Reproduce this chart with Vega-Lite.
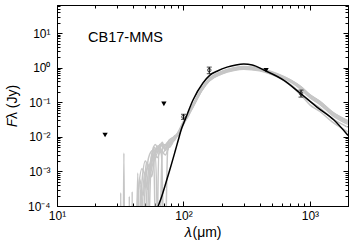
{
  "$schema": "https://vega.github.io/schema/vega-lite/v6.json",
  "width": 291,
  "height": 201,
  "autosize": {"type": "none"},
  "padding": {"left": 57, "top": 5, "right": 6, "bottom": 44},
  "background": "white",
  "config": {
    "view": {"stroke": "black", "strokeWidth": 1},
    "axis": {"labelFont": "Liberation Sans", "titleFont": "Liberation Sans", "labelColor": "black", "titleColor": "black", "domainColor": "black", "tickColor": "black", "grid": false, "labelFontSize": 12, "titleFontSize": 14, "titleFontWeight": "normal"}
  },
  "datasets": {
    "grey": [
      {"m":"A","lam":30,"f":1e-6},{"m":"A","lam":33.3,"f":1e-6},{"m":"A","lam":33.8,"f":0.0034},{"m":"A","lam":34.3,"f":1e-6},{"m":"A","lam":40,"f":1e-6},{"m":"A","lam":44,"f":0.0003},{"m":"A","lam":47,"f":0.0012},{"m":"A","lam":50,"f":0.0008},{"m":"A","lam":53,"f":0.0025},{"m":"A","lam":57,"f":0.004},{"m":"A","lam":61,"f":0.003},{"m":"A","lam":65,"f":0.006},{"m":"A","lam":70,"f":0.005},{"m":"A","lam":75,"f":0.007},{"m":"A","lam":80,"f":0.006},{"m":"A","lam":85,"f":0.009},
      {"m":"A","lam":90,"f":0.012},{"m":"A","lam":100,"f":0.026},{"m":"A","lam":110,"f":0.047},{"m":"A","lam":120,"f":0.085},{"m":"A","lam":140,"f":0.24},{"m":"A","lam":160,"f":0.45},{"m":"A","lam":200,"f":0.72},{"m":"A","lam":250,"f":0.92},{"m":"A","lam":300,"f":1.0},{"m":"A","lam":400,"f":0.9},{"m":"A","lam":500,"f":0.7},{"m":"A","lam":700,"f":0.4},{"m":"A","lam":850,"f":0.24},{"m":"A","lam":1000,"f":0.14},{"m":"A","lam":1200,"f":0.09},{"m":"A","lam":1500,"f":0.045},{"m":"A","lam":2000,"f":0.025},
      {"m":"B","lam":30,"f":1e-6},{"m":"B","lam":31.5,"f":1e-6},{"m":"B","lam":31.9,"f":0.00024},{"m":"B","lam":32.3,"f":1e-6},{"m":"B","lam":42,"f":1e-6},{"m":"B","lam":45,"f":0.0006},{"m":"B","lam":48,"f":0.0002},{"m":"B","lam":51,"f":0.0018},{"m":"B","lam":55,"f":0.0012},{"m":"B","lam":58,"f":0.0045},{"m":"B","lam":62,"f":0.0025},{"m":"B","lam":66,"f":0.004},{"m":"B","lam":72,"f":0.003},{"m":"B","lam":78,"f":0.0065},{"m":"B","lam":85,"f":0.008},
      {"m":"B","lam":90,"f":0.011},{"m":"B","lam":100,"f":0.024},{"m":"B","lam":110,"f":0.044},{"m":"B","lam":120,"f":0.079},{"m":"B","lam":140,"f":0.22},{"m":"B","lam":160,"f":0.42},{"m":"B","lam":200,"f":0.67},{"m":"B","lam":250,"f":0.86},{"m":"B","lam":300,"f":0.93},{"m":"B","lam":400,"f":0.84},{"m":"B","lam":500,"f":0.65},{"m":"B","lam":700,"f":0.39},{"m":"B","lam":850,"f":0.245},{"m":"B","lam":1000,"f":0.143},{"m":"B","lam":1200,"f":0.092},{"m":"B","lam":1500,"f":0.046},{"m":"B","lam":2000,"f":0.026},
      {"m":"C","lam":36,"f":1e-6},{"m":"C","lam":37,"f":1e-6},{"m":"C","lam":37.3,"f":0.00019},{"m":"C","lam":37.7,"f":1e-6},{"m":"C","lam":45,"f":1e-6},{"m":"C","lam":49,"f":0.0009},{"m":"C","lam":52,"f":0.0003},{"m":"C","lam":56,"f":0.003},{"m":"C","lam":60,"f":0.006},{"m":"C","lam":64,"f":0.004},{"m":"C","lam":68,"f":0.007},{"m":"C","lam":72,"f":0.004},{"m":"C","lam":77,"f":0.008},{"m":"C","lam":84,"f":0.01},
      {"m":"C","lam":90,"f":0.0126},{"m":"C","lam":100,"f":0.027},{"m":"C","lam":110,"f":0.049},{"m":"C","lam":120,"f":0.089},{"m":"C","lam":140,"f":0.25},{"m":"C","lam":160,"f":0.47},{"m":"C","lam":200,"f":0.76},{"m":"C","lam":250,"f":0.97},{"m":"C","lam":300,"f":1.05},{"m":"C","lam":400,"f":0.95},{"m":"C","lam":500,"f":0.74},{"m":"C","lam":700,"f":0.41},{"m":"C","lam":850,"f":0.235},{"m":"C","lam":1000,"f":0.135},{"m":"C","lam":1200,"f":0.086},{"m":"C","lam":1500,"f":0.042},{"m":"C","lam":2000,"f":0.023},
      {"m":"D","lam":38,"f":1e-6},{"m":"D","lam":39,"f":1e-6},{"m":"D","lam":39.3,"f":0.00026},{"m":"D","lam":39.7,"f":1e-6},{"m":"D","lam":44,"f":1e-6},{"m":"D","lam":47,"f":0.0005},{"m":"D","lam":50,"f":0.002},{"m":"D","lam":54,"f":0.001},{"m":"D","lam":58,"f":0.0035},{"m":"D","lam":61,"f":1e-6},{"m":"D","lam":64,"f":0.005},{"m":"D","lam":69,"f":0.0035},{"m":"D","lam":74,"f":0.0055},{"m":"D","lam":80,"f":0.008},{"m":"D","lam":86,"f":0.01},
      {"m":"D","lam":90,"f":0.0116},{"m":"D","lam":100,"f":0.025},{"m":"D","lam":110,"f":0.046},{"m":"D","lam":120,"f":0.082},{"m":"D","lam":140,"f":0.23},{"m":"D","lam":160,"f":0.44},{"m":"D","lam":200,"f":0.7},{"m":"D","lam":250,"f":0.89},{"m":"D","lam":300,"f":0.97},{"m":"D","lam":400,"f":0.87},{"m":"D","lam":500,"f":0.68},{"m":"D","lam":700,"f":0.43},{"m":"D","lam":850,"f":0.28},{"m":"D","lam":1000,"f":0.163},{"m":"D","lam":1200,"f":0.105},{"m":"D","lam":1500,"f":0.052},{"m":"D","lam":2000,"f":0.029},
      {"m":"E","lam":45,"f":1e-6},{"m":"E","lam":46,"f":1e-6},{"m":"E","lam":50,"f":0.0004},{"m":"E","lam":53,"f":0.0015},{"m":"E","lam":56,"f":0.0007},{"m":"E","lam":60,"f":0.003},{"m":"E","lam":64,"f":1e-6},{"m":"E","lam":68,"f":0.004},{"m":"E","lam":72,"f":0.006},{"m":"E","lam":78,"f":0.005},{"m":"E","lam":84,"f":0.009},
      {"m":"E","lam":90,"f":0.013},{"m":"E","lam":100,"f":0.028},{"m":"E","lam":110,"f":0.051},{"m":"E","lam":120,"f":0.092},{"m":"E","lam":140,"f":0.26},{"m":"E","lam":160,"f":0.49},{"m":"E","lam":200,"f":0.78},{"m":"E","lam":250,"f":0.99},{"m":"E","lam":300,"f":1.08},{"m":"E","lam":400,"f":0.97},{"m":"E","lam":500,"f":0.76},{"m":"E","lam":700,"f":0.44},{"m":"E","lam":850,"f":0.27},{"m":"E","lam":1000,"f":0.159},{"m":"E","lam":1200,"f":0.102},{"m":"E","lam":1500,"f":0.051},{"m":"E","lam":2000,"f":0.028},
      {"m":"F","lam":41,"f":1e-6},{"m":"F","lam":42,"f":1e-6},{"m":"F","lam":43.5,"f":0.0009},{"m":"F","lam":45,"f":1e-6},{"m":"F","lam":50,"f":1e-6},{"m":"F","lam":54,"f":0.0012},{"m":"F","lam":58,"f":0.0025},{"m":"F","lam":63,"f":0.0055},{"m":"F","lam":67,"f":0.003},{"m":"F","lam":71,"f":1e-6},{"m":"F","lam":75,"f":0.004},{"m":"F","lam":80,"f":0.007},{"m":"F","lam":86,"f":0.011},
      {"m":"F","lam":90,"f":0.0108},{"m":"F","lam":100,"f":0.023},{"m":"F","lam":110,"f":0.042},{"m":"F","lam":120,"f":0.077},{"m":"F","lam":140,"f":0.22},{"m":"F","lam":160,"f":0.41},{"m":"F","lam":200,"f":0.65},{"m":"F","lam":250,"f":0.83},{"m":"F","lam":300,"f":0.9},{"m":"F","lam":400,"f":0.81},{"m":"F","lam":500,"f":0.63},{"m":"F","lam":700,"f":0.33},{"m":"F","lam":850,"f":0.18},{"m":"F","lam":1000,"f":0.107},{"m":"F","lam":1200,"f":0.069},{"m":"F","lam":1500,"f":0.034},{"m":"F","lam":2000,"f":0.019},
      {"m":"G","lam":47,"f":1e-6},{"m":"G","lam":48,"f":1e-6},{"m":"G","lam":52,"f":0.0006},{"m":"G","lam":55,"f":0.002},{"m":"G","lam":59,"f":0.005},{"m":"G","lam":62,"f":0.0035},{"m":"G","lam":67,"f":0.0065},{"m":"G","lam":71,"f":0.0045},{"m":"G","lam":76,"f":0.0075},{"m":"G","lam":82,"f":0.009},
      {"m":"G","lam":90,"f":0.012},{"m":"G","lam":100,"f":0.026},{"m":"G","lam":110,"f":0.047},{"m":"G","lam":120,"f":0.085},{"m":"G","lam":140,"f":0.24},{"m":"G","lam":160,"f":0.45},{"m":"G","lam":200,"f":0.72},{"m":"G","lam":250,"f":0.92},{"m":"G","lam":300,"f":1.0},{"m":"G","lam":400,"f":0.9},{"m":"G","lam":500,"f":0.68},{"m":"G","lam":700,"f":0.31},{"m":"G","lam":850,"f":0.16},{"m":"G","lam":1000,"f":0.084},{"m":"G","lam":1200,"f":0.054},{"m":"G","lam":1500,"f":0.027},{"m":"G","lam":2000,"f":0.014},
      {"m":"H","lam":43,"f":1e-6},{"m":"H","lam":44,"f":1e-6},{"m":"H","lam":46,"f":0.0004},{"m":"H","lam":48,"f":1e-6},{"m":"H","lam":52,"f":1e-6},{"m":"H","lam":55,"f":0.0008},{"m":"H","lam":58,"f":0.002},{"m":"H","lam":62,"f":0.0045},{"m":"H","lam":66,"f":0.0035},{"m":"H","lam":70,"f":0.006},{"m":"H","lam":76,"f":0.005},{"m":"H","lam":82,"f":0.0085},
      {"m":"H","lam":90,"f":0.0122},{"m":"H","lam":100,"f":0.0265},{"m":"H","lam":110,"f":0.048},{"m":"H","lam":120,"f":0.087},{"m":"H","lam":140,"f":0.245},{"m":"H","lam":160,"f":0.46},{"m":"H","lam":200,"f":0.73},{"m":"H","lam":250,"f":0.94},{"m":"H","lam":300,"f":1.02},{"m":"H","lam":400,"f":0.92},{"m":"H","lam":500,"f":0.72},{"m":"H","lam":700,"f":0.44},{"m":"H","lam":850,"f":0.28},{"m":"H","lam":1000,"f":0.164},{"m":"H","lam":1200,"f":0.106},{"m":"H","lam":1500,"f":0.053},{"m":"H","lam":2000,"f":0.029}
    ],
    "best": [
      {"lam":60,"f":0.00006},{"lam":63.2,"f":0.0001},{"lam":67.2,"f":0.000186},{"lam":71.4,"f":0.00038},{"lam":75.8,"f":0.00079},{"lam":80.7,"f":0.00171},{"lam":85.7,"f":0.0037},{"lam":91,"f":0.0081},{"lam":96.8,"f":0.0176},{"lam":102.8,"f":0.0306},{"lam":119,"f":0.116},{"lam":142.6,"f":0.36},{"lam":162,"f":0.61},{"lam":184,"f":0.79},{"lam":221,"f":1.04},{"lam":260,"f":1.2},{"lam":300,"f":1.27},{"lam":350,"f":1.2},{"lam":433,"f":0.85},{"lam":623,"f":0.43},{"lam":834,"f":0.185},{"lam":1136,"f":0.0727},{"lam":1549,"f":0.0306},{"lam":2000,"f":0.011}
    ],
    "obs": [
      {"lam":100,"f":0.038,"lo":0.032,"hi":0.045},
      {"lam":160,"f":0.85,"lo":0.67,"hi":1.04},
      {"lam":850,"f":0.18,"lo":0.141,"hi":0.225}
    ],
    "lim": [
      {"lam":24,"f":0.0113},
      {"lam":70,"f":0.09},
      {"lam":450,"f":0.84}
    ]
  },
  "resolve": {"axis": {"x": "independent", "y": "independent"}},
  "layer": [
    {
      "data": {"name": "grey"},
      "mark": {"type": "line", "clip": true, "color": "#c6c6c6", "strokeWidth": 1.5, "interpolate": "monotone"},
      "encoding": {
        "x": {"field": "lam", "type": "quantitative",
          "scale": {"type": "log", "domain": [10, 2000], "nice": false},
          "axis": {"orient": "bottom", "title": "𝜆(μm)", "titlePadding": 4,
            "values": [10,20,30,40,50,60,70,80,90,100,200,300,400,500,600,700,800,900,1000,2000],
            "labelExpr": "abs(log(datum.value)/LN10 - round(log(datum.value)/LN10)) < 0.001 ? '10' + ['⁰','¹','²','³','⁴'][round(log(datum.value)/LN10)] : ''",
            "tickSize": {"condition": {"test": "abs(log(datum.value)/LN10 - round(log(datum.value)/LN10)) < 0.001", "value": -5}, "value": -3},
            "labelPadding": 9, "labelFlush": false}},
        "y": {"field": "f", "type": "quantitative",
          "scale": {"type": "log", "domain": [0.0001, 65], "nice": false},
          "axis": {"orient": "left", "title": "𝐹λ (Jy)", "titlePadding": 8,
            "values": [0.0001,0.0002,0.0003,0.0004,0.0005,0.0006,0.0007,0.0008,0.0009,0.001,0.002,0.003,0.004,0.005,0.006,0.007,0.008,0.009,0.01,0.02,0.03,0.04,0.05,0.06,0.07,0.08,0.09,0.1,0.2,0.3,0.4,0.5,0.6,0.7,0.8,0.9,1,2,3,4,5,6,7,8,9,10,20,30,40,50,60],
            "labelExpr": "abs(log(datum.value)/LN10 - round(log(datum.value)/LN10)) < 0.001 ? '10' + (datum.value < 0.5 ? '⁻' : '') + ['⁰','¹','²','³','⁴'][abs(round(log(datum.value)/LN10))] : ''",
            "tickSize": {"condition": {"test": "abs(log(datum.value)/LN10 - round(log(datum.value)/LN10)) < 0.001", "value": -5}, "value": -3},
            "labelPadding": 12, "labelFlush": false}},
        "detail": {"field": "m", "type": "nominal"}
      }
    },
    {
      "data": {"name": "best"},
      "mark": {"type": "line", "clip": true, "color": "black", "strokeWidth": 1.5, "interpolate": "monotone"},
      "encoding": {
        "x": {"field": "lam", "type": "quantitative",
          "axis": {"orient": "top", "title": null, "labels": false,
            "values": [10,20,30,40,50,60,70,80,90,100,200,300,400,500,600,700,800,900,1000,2000],
            "tickSize": {"condition": {"test": "abs(log(datum.value)/LN10 - round(log(datum.value)/LN10)) < 0.001", "value": -5}, "value": -3}}},
        "y": {"field": "f", "type": "quantitative",
          "axis": {"orient": "right", "title": null, "labels": false,
            "values": [0.0001,0.0002,0.0003,0.0004,0.0005,0.0006,0.0007,0.0008,0.0009,0.001,0.002,0.003,0.004,0.005,0.006,0.007,0.008,0.009,0.01,0.02,0.03,0.04,0.05,0.06,0.07,0.08,0.09,0.1,0.2,0.3,0.4,0.5,0.6,0.7,0.8,0.9,1,2,3,4,5,6,7,8,9,10,20,30,40,50,60],
            "tickSize": {"condition": {"test": "abs(log(datum.value)/LN10 - round(log(datum.value)/LN10)) < 0.001", "value": -5}, "value": -3}}}
      }
    },
    {
      "data": {"name": "obs"},
      "mark": {"type": "errorbar", "ticks": {"size": 5, "color": "black"}, "rule": {"color": "black"}, "thickness": 1},
      "encoding": {
        "x": {"field": "lam", "type": "quantitative", "axis": null},
        "y": {"field": "lo", "type": "quantitative", "axis": null},
        "y2": {"field": "hi"}
      }
    },
    {
      "data": {"name": "obs"},
      "mark": {"type": "point", "shape": "circle", "filled": false, "color": "black", "size": 12, "strokeWidth": 1},
      "encoding": {
        "x": {"field": "lam", "type": "quantitative", "axis": null},
        "y": {"field": "f", "type": "quantitative", "axis": null}
      }
    },
    {
      "data": {"name": "lim"},
      "mark": {"type": "point", "shape": "triangle-down", "filled": true, "color": "black", "size": 28, "opacity": 1},
      "encoding": {
        "x": {"field": "lam", "type": "quantitative", "axis": null},
        "y": {"field": "f", "type": "quantitative", "axis": null}
      }
    },
    {
      "data": {"values": [{"label": "CB17-MMS"}]},
      "mark": {"type": "text", "align": "left", "baseline": "middle", "font": "Liberation Sans", "fontSize": 14.5, "color": "black"},
      "encoding": {
        "x": {"datum": 17.6, "type": "quantitative", "axis": null},
        "y": {"datum": 7.4, "type": "quantitative", "axis": null},
        "text": {"field": "label", "type": "nominal"}
      }
    }
  ]
}
